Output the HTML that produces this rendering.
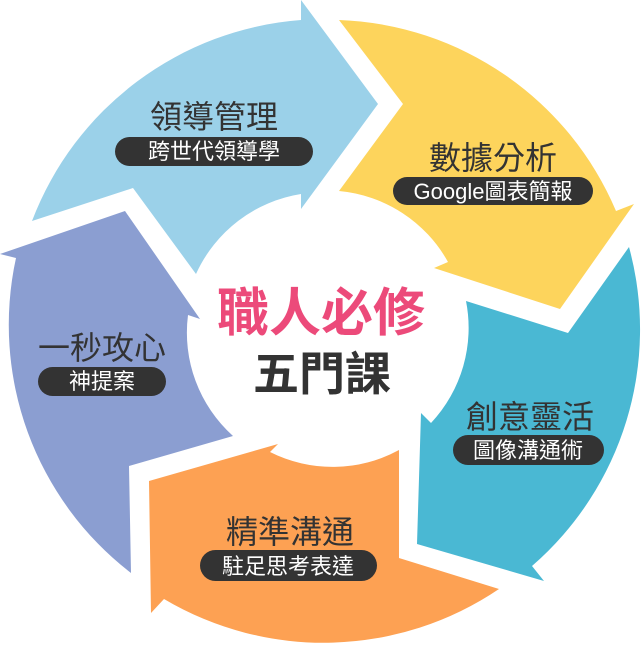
<!DOCTYPE html>
<html><head><meta charset="utf-8"><style>
html,body{margin:0;padding:0;background:#fff;}
svg{display:block;}
text{font-family:"Liberation Sans","Noto Sans CJK TC",sans-serif;}
</style></head><body>
<svg width="641" height="649" viewBox="0 0 641 649" xmlns="http://www.w3.org/2000/svg">
<path fill="#9bd1e9" d="M32,221 A313,313 0 0 1 301,20 L301,0 L378,104 L301,209 L301,194 A139,139 0 0 0 196,274 L133,188 Z"/>
<path fill="#fdd45c" d="M339,20 A313,313 0 0 1 616,211 L634,204 L560,309 L434,268 L448,262 A139,139 0 0 0 339,191 L403,104 Z"/>
<path fill="#4ab8d3" d="M629,247 A313,313 0 0 1 532,566 L544,581 L417,544 L421,413 L431,423 A139,139 0 0 0 466,301 L568,333 Z"/>
<path fill="#fda153" d="M499,589 A313,313 0 0 1 164,599 L151,613 L149,481 L278,444 L270,452 A139,139 0 0 0 399,450 L399,558 Z"/>
<path fill="#8b9ed1" d="M131,573 A313,313 0 0 1 16,258 L0,254 L125,211 L200,319 L188,315 A139,139 0 0 0 233,436 L129,466 Z"/>

<text x="321" y="331" text-anchor="middle" font-size="52" font-weight="bold" fill="#ec4a7a">職人必修</text>
<text x="322" y="390" text-anchor="middle" font-size="46" font-weight="bold" fill="#333">五門課</text>

<g font-size="32" fill="#333" text-anchor="middle">
<text x="214" y="128">領導管理</text>
<text x="493" y="169">數據分析</text>
<text x="102" y="359">一秒攻心</text>
<text x="530" y="428">創意靈活</text>
<text x="290" y="543">精準溝通</text>
</g>
<g fill="#333">
<rect x="115" y="137" width="198" height="29" rx="14.5"/>
<rect x="393" y="177" width="200" height="28" rx="14"/>
<rect x="38" y="367" width="128" height="29" rx="14.5"/>
<rect x="453" y="435" width="151" height="30" rx="15"/>
<rect x="200" y="550" width="177" height="31" rx="15.5"/>
</g>
<g font-size="22" fill="#fff" text-anchor="middle">
<text x="214" y="159">跨世代領導學</text>
<text x="493" y="199">Google圖表簡報</text>
<text x="102" y="389">神提案</text>
<text x="528" y="458">圖像溝通術</text>
<text x="288" y="574">駐足思考表達</text>
</g>
</svg>
</body></html>
